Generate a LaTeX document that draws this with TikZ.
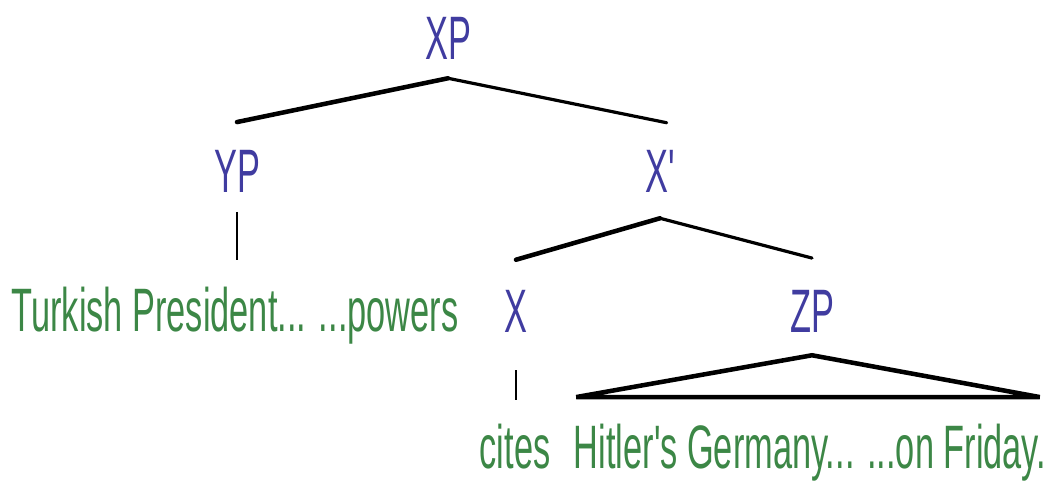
\documentclass[tikz,border=0pt]{standalone}
\usepackage{fontspec}
\newfontfamily\labfont[FakeStretch=0.56]{Liberation Sans}
\definecolor{catblue}{RGB}{64,60,160}
\definecolor{wordgreen}{RGB}{60,135,70}
\begin{document}
\begin{tikzpicture}[x=0.75pt,y=-0.75pt]
\tikzset{
  lab/.style={inner sep=0pt, text height=33pt, text depth=0pt, anchor=base,
    font=\labfont\fontsize{46}{50}\selectfont},
  cat/.style={lab, text=catblue},
  words/.style={lab, text=wordgreen},
  br/.style={line width=2.4pt, line cap=round, line join=miter},
  thick br/.style={br, line width=3.4pt},
  stem/.style={line width=1.4pt}
}
\useasboundingbox[fill=white] (0,0) rectangle (1047,481);
\node[cat] (XP) at (448,60) {XP};
\node[cat] (YP) at (237,193) {YP};
\node[cat] (Xb) at (660,193) {X'};
\node[words] (TP) at (235,331) {Turkish President... ...powers};
\node[cat] (X) at (516,333) {X};
\node[cat] (ZP) at (812,333) {ZP};
\node[words] (cites) at (515,468) {cites};
\node[words] (HG) at (810,468) {Hitler's Germany... ...on Friday.};
% XP branches
\draw[thick br] ([yshift=-13.5pt]XP.south) -- ([yshift=20pt]YP.north);
\draw[br] ([yshift=-13.5pt]XP.south) -- ([xshift=5pt,yshift=19.5pt]Xb.north);
% X' branches
\draw[thick br] ([yshift=-18.75pt]Xb.south) -- ([yshift=21.75pt]X.north);
\draw[br] ([yshift=-18.75pt]Xb.south) -- ([yshift=23pt]ZP.north);
% stems
\draw[stem] ([yshift=-14pt]YP.south) -- ([xshift=1.5pt,yshift=20pt]TP.north);
\draw[stem] ([yshift=-27.75pt]X.south) -- ([xshift=0.75pt,yshift=18pt]cites.north);
% triangle
\draw[thick br] ([yshift=-16.5pt]ZP.south) -- ([xshift=2pt,yshift=20pt]HG.north west)
  -- ([xshift=-5pt,yshift=20pt]HG.north east) -- cycle;
\end{tikzpicture}
\end{document}
